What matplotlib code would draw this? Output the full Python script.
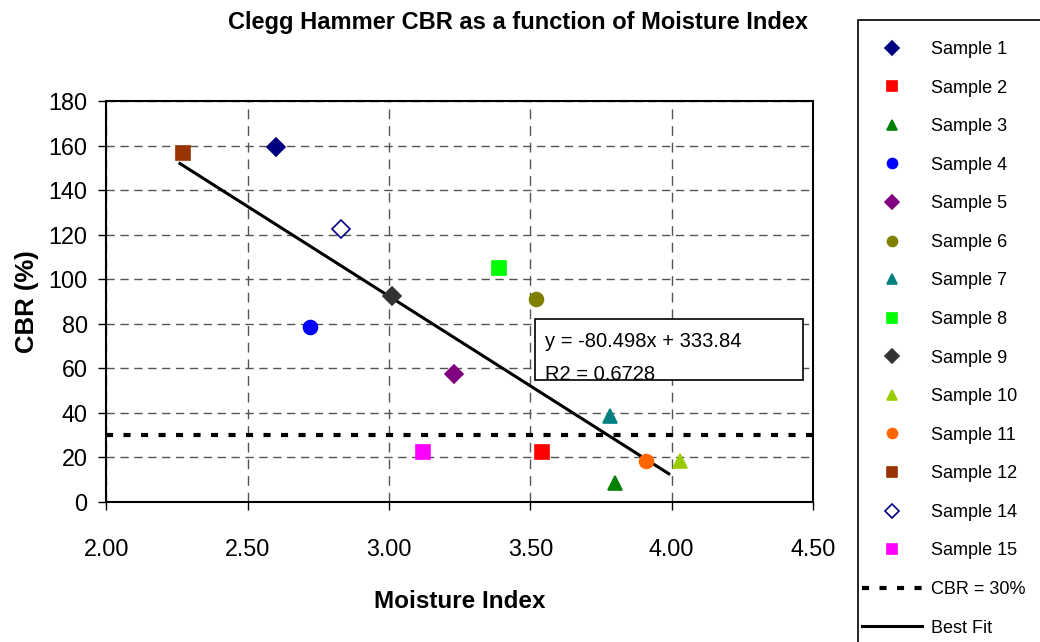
import matplotlib
matplotlib.use("Agg")
import matplotlib.pyplot as plt
from matplotlib.lines import Line2D
from matplotlib.patches import Rectangle

plt.rcParams['font.family'] = ['Liberation Sans', 'DejaVu Sans']

labels = ["Sample 1", "Sample 2", "Sample 3", "Sample 4", "Sample 5", "Sample 6",
          "Sample 7", "Sample 8", "Sample 9", "Sample 10", "Sample 11", "Sample 12",
          "Sample 14", "Sample 15"]
moisture = [2.60, 3.54, 3.80, 2.72, 3.23, 3.52, 3.78, 3.39, 3.01, 4.03, 3.91, 2.27, 2.83, 3.12]
cbr = [159.5, 22.5, 8.5, 78.5, 57.5, 91, 38.5, 105, 92.5, 18.5, 18.5, 156.5, 122.5, 22.5]
markers = ["D", "s", "^", "o", "D", "o", "^", "s", "D", "^", "o", "s", "D", "s"]
colors = ["#000080", "#FF0000", "#008000", "#0000FF", "#800080", "#808000", "#008080",
          "#00FF00", "#333333", "#99CC00", "#FF6600", "#993300", "#000080", "#FF00FF"]
filled = [True] * 12 + [False, True]

slope, intercept = -80.498, 333.84
fit_x = [2.26, 3.99]
cbr_limit = 30
xticks = [2.00, 2.50, 3.00, 3.50, 4.00, 4.50]
yticks = [0, 20, 40, 60, 80, 100, 120, 140, 160, 180]

fig = plt.figure(figsize=(10.4, 6.42), dpi=100)
ax = fig.add_axes([0.1024, 0.2181, 0.6793, 0.6246])

for x in xticks:
    ax.axvline(x, color="#555555", lw=1.0, ls=(0, (7, 5)), zorder=1)
for y in yticks:
    ax.axhline(y, color="#555555", lw=1.0, ls=(0, (6, 4)), zorder=1)

handles = []
for lab, x, y, m, c, f in zip(labels, moisture, cbr, markers, colors, filled):
    ms = 9.5 if m == "D" else 10
    ax.plot([x], [y], marker=m, ms=ms, color=c, mfc=c if f else "white",
            mec=c, mew=1.2, ls="none", zorder=4)
    handles.append(Line2D([], [], marker=m, ms=ms * 0.72, color=c,
                          mfc=c if f else "white", mec=c, mew=1.2, ls="none", label=lab))

ax.plot([2.0, 4.535], [cbr_limit, cbr_limit], color="black", lw=3,
        ls=(0, (1.7, 2.5)), zorder=3, clip_on=False)
ax.plot(fit_x, [slope * v + intercept for v in fit_x], color="black", lw=2.2, zorder=3)

handles.append(Line2D([], [], color="black", lw=3, ls=(0, (1.7, 2.5)), label="CBR = 30%"))
handles.append(Line2D([], [], color="black", lw=2.2, label="Best Fit"))

ax.set_xlim(2.0, 4.5)
ax.set_ylim(0, 180)
ax.set_xticks(xticks)
ax.set_xticklabels([f"{v:.2f}" for v in xticks])
ax.set_yticks(yticks)
ax.tick_params(direction="out", length=6, width=1, labelsize=16.8)
ax.tick_params(axis="x", pad=20)
ax.tick_params(axis="y", pad=7.5)
for s in ax.spines.values():
    s.set_linewidth(1.5)
ax.set_xlabel("Moisture Index", fontsize=17.5, fontweight="bold", labelpad=21)
ax.set_ylabel("CBR (%)", fontsize=18.5, fontweight="bold", labelpad=7)
fig.text(518 / 1040, 1 - 22 / 642, "Clegg Hammer CBR as a function of Moisture Index",
         ha="center", va="center", fontsize=17, fontweight="bold")

# equation box (text clipped at the bottom like the original)
box = Rectangle((3.516, 54.8), 0.949, 27.4, transform=ax.transData,
                facecolor="white", edgecolor="black", lw=1.2, zorder=5, clip_on=False)
ax.add_patch(box)
t1 = ax.text(3.552, 69.4, "y = -80.498x + 333.84", fontsize=14.5, va="baseline", ha="left", zorder=6)
t2 = ax.text(3.552, 54.7, "R2 = 0.6728", fontsize=14.5, va="baseline", ha="left", zorder=6)
t1.set_clip_path(box)
t2.set_clip_path(box)

# legend frame (extends past the figure edge, as in the reference)
fig.patches.append(Rectangle((858 / 1040, -0.05), 0.3, 1 - 20 / 642 + 0.05,
                             transform=fig.transFigure, facecolor="white",
                             edgecolor="black", lw=1.2, zorder=0))
leg = fig.legend(handles=handles, loc="upper left",
                 bbox_to_anchor=(862 / 1040, 1 - 41 / 642),
                 fontsize=13, frameon=False,
                 handlelength=3.3, handletextpad=0.5, labelspacing=1.195,
                 borderpad=0, borderaxespad=0)

fig.savefig("out.png", dpi=100)
